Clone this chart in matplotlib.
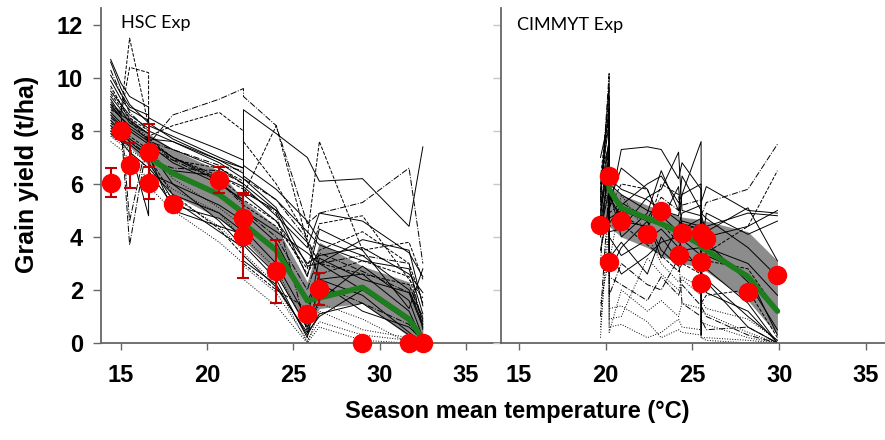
import matplotlib
matplotlib.use("Agg")
import matplotlib.pyplot as plt

# ---- HSC experiment (left panel) ----
temp_hsc = [14.4, 15.0, 15.5, 16.6, 16.6, 18.0, 20.7, 22.1, 22.1, 24.0, 25.8, 26.5, 29.0, 31.7, 32.5]
obs_hsc = [6.05, 8.0, 6.7, 6.05, 7.2, 5.25, 6.15, 4.7, 4.05, 2.7, 1.08, 2.05, 0.0, 0.0, 0.0]
err_hsc = [0.55, 0.3, 0.85, 0.6, 1.05, 0.25, 0.5, 0.9, 1.6, 1.2, 0.2, 0.6, 0.0, 0.0, 0.0]
# median is hidden under the model bundle below 16.6 degC, so it starts there
temp_med_hsc = [16.6, 18.0, 20.7, 22.1, 22.1, 24.0, 25.8, 26.5, 29.0, 31.7, 32.5]
median_hsc = [7.0, 6.4, 5.6, 4.9, 4.5, 3.5, 1.6, 1.7, 2.1, 0.9, 0.15]
q25_hsc = [7.8, 7.6, 7.4, 6.7, 6.7, 5.6, 4.7, 3.9, 3.9, 2.6, 0.5, 1.3, 1.5, 0.25, 0.05]
q75_hsc = [9.0, 8.8, 8.5, 7.9, 7.9, 7.3, 6.5, 5.4, 5.4, 4.4, 2.3, 3.8, 2.9, 2.3, 1.0]

models_hsc = [
    ("-", [9.2, 8.6, 8.4, 7.9, 7.6, 7.0, 6.1, 5.3, 4.9, 3.8, 1.6, 2.4, 2.6, 1.2, 0.1]),
    ("-", [8.7, 8.3, 8.0, 7.5, 7.3, 6.0, 4.6, 3.6, 3.3, 2.1, 0.4, 1.0, 2.0, 0.8, 0.0]),
    ("-", [10.6, 9.6, 9.0, 8.3, 8.0, 7.6, 6.8, 6.2, 5.9, 4.8, 3.6, 4.9, 4.6, 3.4, 2.5]),
    ("-", [8.0, 7.7, 7.5, 6.9, 6.6, 5.6, 4.9, 4.2, 8.8, 7.9, 7.0, 6.1, 6.2, 4.4, 7.4]),
    ("-", [9.5, 9.0, 8.6, 8.1, 7.8, 7.3, 6.6, 6.0, 5.6, 4.6, 3.0, 3.3, 3.6, 2.6, 1.9]),
    ("-", [8.4, 8.0, 7.6, 7.0, 6.8, 5.4, 4.2, 3.6, 3.1, 2.2, 0.3, 1.1, 1.5, 0.3, 0.0]),
    ("-", [9.9, 9.2, 8.8, 8.4, 8.2, 7.8, 7.0, 6.6, 6.3, 5.4, 4.2, 3.7, 3.1, 2.8, 1.1]),
    ("-", [8.9, 8.5, 8.1, 7.6, 7.1, 5.0, 4.4, 4.1, 3.8, 2.6, 0.6, 1.6, 2.9, 1.6, 0.2]),
    ("-", [7.9, 7.6, 7.2, 6.6, 6.4, 6.0, 5.2, 4.6, 4.3, 3.0, 0.9, 3.2, 2.4, 1.9, 0.6]),
    ("-", [9.3, 8.8, 8.3, 7.9, 7.7, 7.6, 6.9, 6.6, 6.2, 5.1, 2.9, 3.0, 2.0, 0.9, 0.3]),
    ("-", [10.1, 9.4, 8.9, 8.6, 8.3, 7.7, 6.9, 6.4, 6.0, 5.0, 2.5, 4.3, 3.5, 1.3, 2.8]),
    ("-", [8.6, 8.2, 7.7, 7.2, 6.9, 6.5, 6.3, 5.9, 5.7, 5.0, 3.8, 2.4, 1.8, 0.4, 0.0]),
    ("-", [9.0, 8.5, 8.2, 7.7, 7.5, 6.8, 6.0, 5.4, 5.0, 4.2, 3.4, 3.0, 3.9, 3.5, 1.4]),
    ("-", [8.2, 7.8, 7.4, 4.8, 6.5, 5.2, 4.7, 4.0, 3.7, 2.4, 0.2, 2.3, 1.2, 0.6, 0.1]),
    ("-", [10.7, 9.8, 9.3, 8.9, 8.5, 8.0, 7.3, 6.9, 6.7, 5.8, 4.6, 3.9, 3.3, 2.0, 0.7]),
    ("--", [9.0, 8.7, 11.5, 8.2, 7.8, 8.2, 8.7, 8.0, 7.6, 6.0, 4.0, 7.6, 3.5, 3.8, 2.4]),
    ("--", [8.8, 8.6, 10.4, 10.2, 7.6, 7.0, 6.3, 5.8, 5.4, 4.6, 2.6, 3.5, 4.2, 3.0, 1.5]),
    ("--", [9.7, 9.0, 8.4, 7.6, 7.4, 6.9, 6.6, 6.1, 5.6, 8.2, 3.8, 3.0, 2.6, 2.2, 0.9]),
    ("--", [8.3, 8.0, 7.8, 7.3, 7.0, 5.6, 4.3, 3.3, 3.0, 2.0, 1.3, 2.6, 3.1, 2.5, 0.8]),
    ("--", [9.4, 8.9, 8.5, 8.0, 7.7, 7.0, 6.2, 5.5, 5.2, 4.4, 2.8, 4.5, 4.8, 2.4, 1.7]),
    ("-.", [8.5, 8.2, 3.7, 7.8, 7.5, 8.6, 9.2, 9.6, 9.3, 8.2, 4.5, 4.9, 5.3, 6.6, 3.0]),
    ("-.", [9.1, 8.6, 4.6, 7.9, 7.6, 7.3, 6.7, 6.5, 6.2, 5.4, 3.9, 3.0, 3.3, 3.0, 0.5]),
    ("-.", [8.1, 7.9, 7.6, 7.1, 6.9, 6.6, 6.5, 6.0, 5.8, 4.9, 0.4, 2.2, 1.5, 0.7, 0.0]),
    ("-.", [10.3, 9.4, 8.7, 8.0, 7.6, 6.9, 6.1, 5.2, 5.0, 4.0, 2.0, 3.4, 2.7, 1.9, 1.0]),
    (":", [7.6, 7.3, 6.9, 6.2, 5.9, 5.0, 3.8, 3.0, 2.4, 1.4, 0.0, 0.6, 0.1, 0.0, 0.0]),
    (":", [7.8, 7.5, 7.2, 6.6, 6.2, 5.5, 4.4, 3.5, 2.9, 1.9, 0.1, 0.8, 0.3, 0.1, 0.0]),
    (":", [8.0, 7.7, 7.3, 6.8, 6.6, 5.8, 4.9, 3.9, 3.4, 2.2, 0.0, 1.2, 0.5, 0.2, 0.0]),
    (":", [9.6, 9.0, 8.5, 7.7, 7.4, 6.2, 5.1, 4.4, 4.0, 2.8, 0.5, 1.5, 0.9, 0.0, 0.0]),
]

# ---- CIMMYT experiment (right panel) ----
temp_cim = [19.7, 20.2, 20.2, 20.9, 22.4, 23.2, 24.2, 24.4, 25.5, 25.5, 25.5, 25.8, 28.2, 29.9]
obs_cim = [4.45, 6.3, 3.07, 4.6, 4.1, 4.98, 3.32, 4.14, 4.14, 3.07, 2.25, 3.91, 1.91, 2.55]
temp_med_cim = [20.2, 20.2, 20.9, 22.4, 23.2, 24.2, 24.4, 25.5, 25.5, 25.5, 25.8, 28.2, 29.9]
median_cim = [6.0, 5.8, 5.1, 4.7, 4.5, 4.2, 4.1, 3.7, 3.7, 3.6, 3.5, 2.5, 1.2]
q25_cim = [4.4, 4.6, 4.4, 4.0, 3.6, 3.3, 3.0, 3.0, 2.85, 2.85, 2.85, 2.7, 1.6, 0.3]
q75_cim = [5.7, 6.1, 5.9, 5.6, 5.2, 5.0, 4.8, 4.75, 4.65, 4.65, 4.65, 4.6, 4.2, 3.1]

models_cim = [
    ("-", [5.5, 9.8, 5.0, 7.3, 7.4, 7.3, 6.2, 6.8, 5.8, 5.5, 5.3, 5.9, 5.0, 4.9]),
    ("-", [4.8, 7.2, 4.5, 5.2, 6.0, 6.3, 5.3, 5.6, 7.6, 0.3, 4.6, 4.4, 4.9, 4.8]),
    ("-", [6.0, 8.3, 5.8, 4.0, 4.9, 6.5, 5.0, 6.3, 5.0, 4.7, 4.9, 4.0, 4.4, 5.0]),
    ("-", [5.2, 6.8, 5.6, 4.6, 4.4, 5.1, 4.6, 4.5, 4.3, 4.0, 3.9, 3.8, 2.3, 0.5]),
    ("-", [4.6, 6.3, 4.0, 3.3, 3.9, 4.3, 3.6, 3.9, 3.3, 3.1, 2.9, 2.8, 1.5, 0.0]),
    ("-", [6.3, 7.5, 6.0, 5.6, 5.0, 4.8, 4.2, 4.6, 4.4, 4.1, 4.0, 3.6, 3.0, 1.8]),
    ("-", [4.2, 5.8, 3.5, 2.6, 3.3, 3.8, 4.0, 3.5, 3.6, 2.7, 2.6, 2.4, 1.0, 0.1]),
    ("-", [5.8, 9.0, 4.7, 5.0, 4.6, 3.2, 4.4, 4.9, 5.2, 3.6, 4.3, 3.3, 2.6, 0.3]),
    ("-", [4.0, 6.9, 3.2, 3.8, 2.6, 4.0, 3.1, 3.2, 3.0, 2.0, 2.1, 2.3, 0.6, 0.0]),
    ("-", [5.0, 7.7, 4.2, 4.3, 5.5, 5.8, 7.2, 5.0, 4.8, 4.4, 4.5, 4.2, 5.1, 3.1]),
    ("-", [7.0, 8.5, 6.2, 5.8, 5.4, 5.0, 4.8, 5.6, 6.0, 5.2, 4.9, 4.7, 3.6, 2.5]),
    ("-", [3.5, 5.2, 2.7, 3.6, 4.6, 3.5, 2.9, 3.6, 2.7, 2.3, 2.8, 1.9, 1.2, 0.0]),
    ("-", [5.7, 7.6, 5.3, 6.6, 5.8, 4.6, 5.9, 4.3, 4.7, 3.9, 3.5, 4.9, 4.1, 4.6]),
    ("--", [5.4, 8.8, 5.1, 6.0, 5.8, 4.5, 3.8, 4.2, 4.5, 3.3, 3.7, 3.4, 4.4, 6.5]),
    ("--", [4.9, 7.0, 4.4, 4.5, 3.7, 3.3, 2.7, 3.0, 2.6, 1.9, 1.5, 1.8, 2.0, 0.2]),
    ("--", [6.2, 9.3, 5.5, 4.8, 4.3, 6.0, 5.6, 4.0, 3.9, 4.6, 3.4, 3.1, 2.8, 1.2]),
    ("-.", [5.3, 10.2, 4.9, 5.3, 4.7, 5.5, 5.0, 5.2, 5.4, 4.3, 4.8, 5.3, 5.8, 7.5]),
    ("-.", [1.0, 6.0, 1.8, 3.0, 2.2, 2.0, 3.2, 1.5, 1.0, 0.8, 0.9, 0.5, 0.6, 0.0]),
    ("-.", [3.0, 7.9, 2.5, 2.2, 1.6, 2.5, 1.8, 2.2, 1.4, 1.2, 1.4, 1.0, 0.3, 0.0]),
    (":", [0.2, 5.6, 1.3, 1.4, 0.8, 0.2, 0.5, 0.4, 0.3, 0.2, 0.2, 0.1, 0.0, 0.0]),
    (":", [0.6, 4.5, 0.9, 1.0, 3.2, 2.6, 2.0, 2.4, 1.8, 1.0, 1.2, 1.1, 0.4, 0.0]),
    (":", [3.5, 5.0, 0.4, 2.0, 1.2, 1.6, 1.0, 1.5, 1.3, 0.5, 0.8, 0.7, 0.2, 0.0]),
    (":", [4.4, 6.1, 3.0, 5.6, 4.1, 3.0, 2.3, 2.5, 2.1, 1.4, 1.6, 1.3, 0.9, 0.1]),
    (":", [1.5, 3.2, 0.6, 0.7, 0.2, 0.4, 0.9, 0.6, 0.5, 0.3, 0.2, 0.2, 0.1, 0.0]),
]

x_ticks = [15, 20, 25, 30, 35]
y_ticks = [0, 2, 4, 6, 8, 10, 12]

tick_font = dict(family=["Liberation Sans", "DejaVu Sans"], weight="bold", size=17)
spine_col = "#666666"

fig = plt.figure(figsize=(8.85, 4.4), dpi=100)
ax1 = fig.add_axes([0.1141, 0.2205, 0.452, 0.7614])
ax2 = fig.add_axes([0.566, 0.2205, 0.434, 0.7614])


def draw_panel(ax, temps, obs, t_med, med, lo, hi, models, err=None):
    ax.fill_between(temps, lo, hi, color="#8c8c8c", lw=0, zorder=1)
    for style, vals in models:
        ax.plot(temps, vals, style, color="black", lw=0.7, zorder=2)
    ax.plot(t_med, med, "-", color="#1e7d1e", lw=4, solid_capstyle="round", zorder=3)
    if err is not None:
        ax.errorbar(temps, obs, yerr=err, fmt="none", ecolor="#c00000", elinewidth=1.5,
                    capsize=4, capthick=1.5, zorder=4, clip_on=False)
    ax.plot(temps, obs, "o", color="#ff0000", ms=13, mec="#ff0000", zorder=5, clip_on=False)
    for s in ["top", "right"]:
        ax.spines[s].set_visible(False)
    for s in ["left", "bottom"]:
        ax.spines[s].set_color(spine_col)
        ax.spines[s].set_linewidth(1.3)
    ax.set_xticks(x_ticks)
    ax.set_yticks(y_ticks)
    ax.tick_params(axis="x", direction="out", length=5, width=1, color=spine_col, pad=10)
    ax.tick_params(axis="y", direction="out", length=6, width=1, color=spine_col, pad=7)
    ax.set_ylim(0, 12.64)


draw_panel(ax1, temp_hsc, obs_hsc, temp_med_hsc, median_hsc, q25_hsc, q75_hsc, models_hsc, err_hsc)
ax1.set_xlim(13.84, 37.03)
ax1.set_xticklabels([str(v) for v in x_ticks], fontdict=tick_font)
ax1.set_yticklabels([str(v) for v in y_ticks], fontdict=tick_font)
ax1.text(0.05, 0.955, "HSC Exp", transform=ax1.transAxes, fontsize=13,
         family=["Lato", "DejaVu Sans"], va="center", ha="left")

draw_panel(ax2, temp_cim, obs_cim, temp_med_cim, median_cim, q25_cim, q75_cim, models_cim)
ax2.set_xlim(13.96, 36.1)
ax2.set_xticklabels([str(v) for v in x_ticks], fontdict=tick_font)
ax2.set_yticklabels([])
ax2.tick_params(axis="y", color="#c8c8c8")
ax2.text(0.042, 0.95, "CIMMYT Exp", transform=ax2.transAxes, fontsize=13,
         family=["Lato", "DejaVu Sans"], va="center", ha="left")

fig.text(0.031, 0.603, "Grain yield (t/ha)", rotation=90, ha="center", va="center",
         fontsize=18, weight="bold", family=["Liberation Sans", "DejaVu Sans"])
fig.text(0.584, 0.064, "Season mean temperature (°C)", ha="center", va="center",
         fontsize=17, weight="bold", family=["Liberation Sans", "DejaVu Sans"])

fig.savefig("out.png", dpi=100)
